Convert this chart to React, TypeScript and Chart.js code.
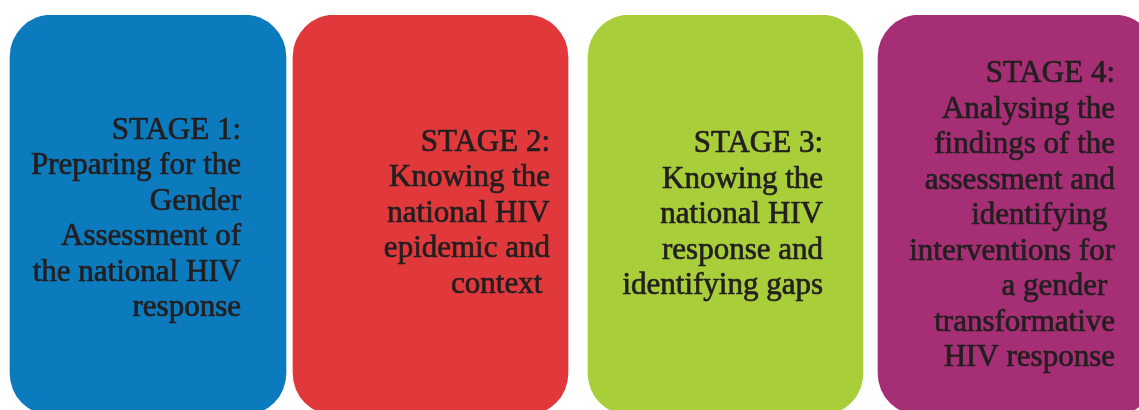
import React, { useEffect, useRef } from "react";
import { Chart, registerables } from "chart.js";

Chart.register(...registerables);

// ---- data ----
const stageNames = ["STAGE 1", "STAGE 2", "STAGE 3", "STAGE 4"];
const stageStart = [10, 293, 588, 878];
const stageEnd = [286, 568, 863, 1156];
const stage1Lines = ["STAGE 1:", "Preparing for the", "Gender", "Assessment of", "the national HIV", "response"];
const stage2Lines = ["STAGE 2:", "Knowing the", "national HIV", "epidemic and", "context "];
const stage3Lines = ["STAGE 3:", "Knowing the", "national HIV", "response and", "identifying gaps"];
const stage4Lines = [
  "STAGE 4:",
  "Analysing the",
  "findings of the",
  "assessment and",
  "identifying ",
  "interventions for",
  "a gender ",
  "transformative",
  "HIV response",
];
const stageLines = [stage1Lines, stage2Lines, stage3Lines, stage4Lines];

// ---- styles / layout ----
const stageColors = ["#0c7bbd", "#e1393b", "#a8ce3a", "#a62e74"];
const textRightInset = [45, 18, 40, 41];
const textShiftY = [12.5, 6.5, 8, 9];
const LINE_HEIGHT = 35.5;
const FONT = '31px "Liberation Serif", "Times New Roman", serif';
const TEXT_COLOR = "#231f20";

const stageTextPlugin = {
  id: "stageText",
  afterDatasetsDraw(chart: any) {
    const ctx = chart.ctx;
    ctx.save();
    ctx.font = FONT;
    ctx.fillStyle = TEXT_COLOR;
    ctx.strokeStyle = TEXT_COLOR;
    ctx.lineWidth = 0.7;
    ctx.lineJoin = "round";
    ctx.textAlign = "right";
    ctx.textBaseline = "alphabetic";
    chart.data.datasets.forEach((ds: any, i: number) => {
      const meta = chart.getDatasetMeta(i);
      const bar = meta.data[0];
      if (!bar) return;
      const p = bar.getProps(["x", "base", "y"], true);
      const right = Math.max(p.x, p.base) - textRightInset[i];
      const lines = stageLines[i];
      const n = lines.length;
      lines.forEach((line: string, j: number) => {
        const yy = p.y + (j - (n - 1) / 2) * LINE_HEIGHT + textShiftY[i];
        ctx.fillText(line, right, yy);
        ctx.strokeText(line, right, yy);
      });
    });
    ctx.restore();
  },
};

export default function App() {
  const ref = useRef<HTMLCanvasElement | null>(null);

  useEffect(() => {
    if (!ref.current) return;
    const chart = new Chart(ref.current, {
      type: "bar",
      data: {
        labels: ["stages"],
        datasets: stageNames.map((name, i) => ({
          label: name,
          data: [[stageStart[i], stageEnd[i]]] as any,
          backgroundColor: stageColors[i],
          borderWidth: 0,
          borderRadius: 42,
          borderSkipped: false,
          barPercentage: 1,
          categoryPercentage: 1,
          grouped: false,
        })),
      },
      options: {
        indexAxis: "y",
        animation: false,
        responsive: false,
        devicePixelRatio: 1,
        events: [],
        layout: { padding: { top: 15, left: 0, right: 0, bottom: 0 } },
        plugins: {
          legend: { display: false },
          tooltip: { enabled: false },
          title: { display: false },
        },
        scales: {
          x: { type: "linear", min: 0, max: 1139, display: false },
          y: { type: "category", display: false },
        },
      },
      plugins: [stageTextPlugin],
    });
    return () => chart.destroy();
  }, []);

  return (
    <div style={{ position: "fixed", left: 0, top: 0, width: 1139, height: 415, background: "#ffffff" }}>
      <canvas ref={ref} width={1139} height={415} style={{ display: "block" }} />
    </div>
  );
}
